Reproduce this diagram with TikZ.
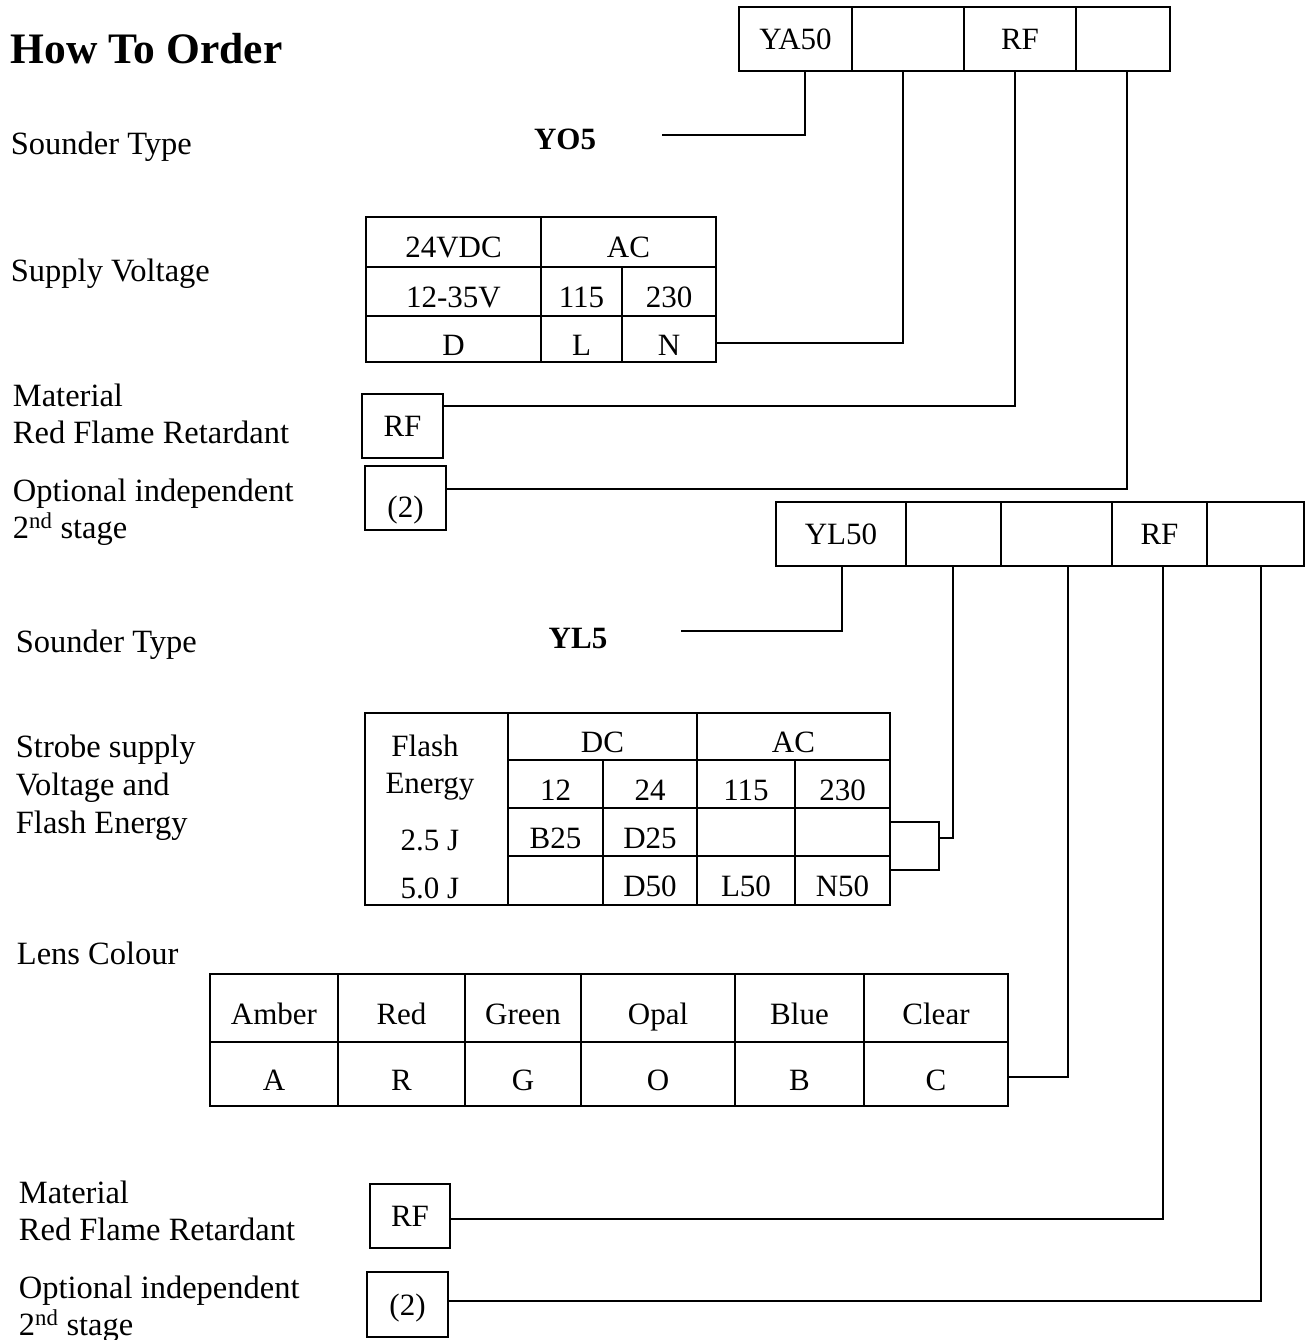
\documentclass[tikz,border=0pt]{standalone}
\usepackage{fontspec}
\setmainfont{Liberation Serif}
\newcommand\mycell[7][cell]{%
  \node[#1, minimum width={#4pt-#3pt}, minimum height={#6pt-#5pt}] (#2) at ({(#3+#4)/2},{(#5+#6)/2}) {#7};}
\begin{document}
\begin{tikzpicture}[x=1pt,y=-1pt, line width=1.8pt,
  every node/.style={font=\fontsize{31}{37}\selectfont, inner sep=0pt},
  lbl/.style={anchor=base west, font=\fontsize{32.5}{38}\selectfont},
  txt/.style={anchor=base},
  box/.style={draw, text height=21pt, text depth=0pt},
  cell/.style={draw, text height=32pt, text depth=0pt},
  wire/.style={line width=1.8pt}]
\useasboundingbox (0,0) rectangle (1307,1340);

% ---------- left labels ----------
\node[lbl, font=\fontsize{43.5}{50}\selectfont\bfseries] (title) at (10,64) {How To Order};
\node[lbl] (st1) at (10,155) {Sounder Type};
\node[lbl] (sv1) at (10,281) {Supply Voltage};
\node[lbl] (ma1) at (12,406) {Material};
\node[lbl] (rr1) at (12,443) {Red Flame Retardant};
\node[lbl] (oi1) at (12,501) {Optional independent};
\node[lbl] (ss1) at (12,538) {2\textsuperscript{nd} stage};
\node[lbl] (st2) at (15,652) {Sounder Type};
\node[lbl] (sb1) at (15,757) {Strobe supply};
\node[lbl] (sb2) at (15,795) {Voltage and};
\node[lbl] (sb3) at (15,833) {Flash Energy};
\node[lbl] (lc) at (16,964) {Lens Colour};
\node[lbl] (ma2) at (18,1203) {Material};
\node[lbl] (rr2) at (18,1240) {Red Flame Retardant};
\node[lbl] (oi2) at (18,1298) {Optional independent};
\node[lbl] (ss2) at (18,1335) {2\textsuperscript{nd} stage};

\node[txt] (yo5) at (565,150) {\bfseries YO5};
\node[txt] (yl5) at (578,648) {\bfseries YL5};

% ---------- first code box ----------
\mycell[box]{a1}{739}{852}{7}{71}{YA50}
\mycell[box]{a2}{852}{964}{7}{71}{}
\mycell[box]{a3}{964}{1076}{7}{71}{RF}
\mycell[box]{a4}{1076}{1170}{7}{71}{}

% ---------- supply voltage table ----------
\mycell{s11}{366}{541}{217}{267}{24VDC}
\mycell{s12}{541}{716}{217}{267}{AC}
\mycell{s21}{366}{541}{267}{316}{12-35V}
\mycell{s22}{541}{622}{267}{316}{115}
\mycell{s23}{622}{716}{267}{316}{230}
\mycell{s31}{366}{541}{316}{362}{D}
\mycell{s32}{541}{622}{316}{362}{L}
\mycell{s33}{622}{716}{316}{362}{N}

\mycell[box]{rf1}{362}{443}{394}{458}{RF}
\mycell[box,text height=39pt]{tw1}{365}{446}{466}{530}{(2)}

% ---------- second code box ----------
\mycell[box]{b1}{776}{906}{502}{566}{YL50}
\mycell[box]{b2}{906}{1001}{502}{566}{}
\mycell[box]{b3}{1001}{1112}{502}{566}{}
\mycell[box]{b4}{1112}{1207}{502}{566}{RF}
\mycell[box]{b5}{1207}{1304}{502}{566}{}

% ---------- strobe table ----------
\mycell{g0}{365}{508}{713}{905}{}
\mycell{gdc}{508}{697}{713}{760}{DC}
\mycell{gac}{697}{890}{713}{760}{AC}
\mycell{g21}{508}{603}{760}{808}{12}
\mycell{g22}{603}{697}{760}{808}{24}
\mycell{g23}{697}{795}{760}{808}{115}
\mycell{g24}{795}{890}{760}{808}{230}
\mycell{g31}{508}{603}{808}{856}{B25}
\mycell{g32}{603}{697}{808}{856}{D25}
\mycell{g33}{697}{795}{808}{856}{}
\mycell{g34}{795}{890}{808}{856}{}
\mycell{g41}{508}{603}{856}{905}{}
\mycell{g42}{603}{697}{856}{905}{D50}
\mycell{g43}{697}{795}{856}{905}{L50}
\mycell{g44}{795}{890}{856}{905}{N50}
\node[txt] (fl1) at (425,756) {Flash};
\node[txt] (fl2) at (430,793) {Energy};
\node[txt] (fl3) at (430,850) {2.5 J};
\node[txt] (fl4) at (430,898) {5.0 J};

% ---------- lens table ----------
\mycell{l11}{210}{338}{974}{1042}{Amber}
\mycell{l12}{338}{465}{974}{1042}{Red}
\mycell{l13}{465}{581}{974}{1042}{Green}
\mycell{l14}{581}{735}{974}{1042}{Opal}
\mycell{l15}{735}{864}{974}{1042}{Blue}
\mycell{l16}{864}{1008}{974}{1042}{Clear}
\mycell{l21}{210}{338}{1042}{1106}{A}
\mycell{l22}{338}{465}{1042}{1106}{R}
\mycell{l23}{465}{581}{1042}{1106}{G}
\mycell{l24}{581}{735}{1042}{1106}{O}
\mycell{l25}{735}{864}{1042}{1106}{B}
\mycell{l26}{864}{1008}{1042}{1106}{C}

\mycell[box]{rf2}{370}{450}{1184}{1248}{RF}
\mycell[box]{tw2}{367}{448}{1272}{1337}{(2)}

% ---------- connectors ----------
\coordinate (yo5end) at (662,135);
\coordinate (yl5end) at (681,631);
\coordinate (brk) at (938,838);
\draw[wire] ([xshift=9.5pt]a1.south) |- (yo5end);
\draw[wire] ([xshift=-5pt]a2.south) |- ([yshift=-4pt]s33.east);
\draw[wire] ([xshift=-5pt]a3.south) |- ([yshift=20pt]rf1.east);
\draw[wire] ([xshift=4pt]a4.south) |- ([yshift=9pt]tw1.east);

\draw[wire] ([xshift=1pt]b1.south) |- (yl5end);
\draw[wire] ([yshift=10pt]g34.east) -- ++(48,0) |- ([yshift=10.5pt]g44.east);
\draw[wire] ([xshift=-0.5pt]b2.south) |- (brk);
\draw[wire] ([xshift=11.5pt]b3.south) |- ([yshift=-3pt]l26.east);
\draw[wire] ([xshift=3.5pt]b4.south) |- ([yshift=-3pt]rf2.east);
\draw[wire] ([xshift=5.5pt]b5.south) |- ([yshift=3.5pt]tw2.east);
\end{tikzpicture}
\end{document}
